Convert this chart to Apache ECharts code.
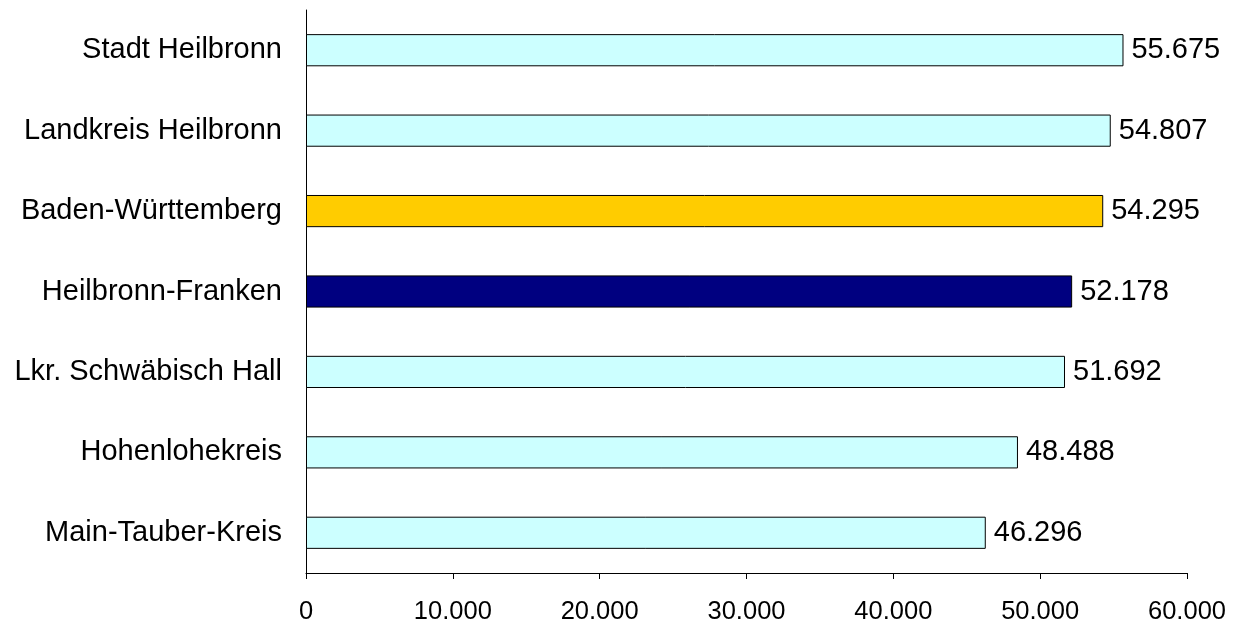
<!DOCTYPE html>
<html><head><meta charset="utf-8">
<script src="https://cdn.jsdelivr.net/npm/echarts@6/dist/echarts.min.js"></script>
<style>html,body{margin:0;padding:0;background:#fff}#c{width:1238px;height:626px}</style>
</head><body><div id="c"></div>
<script>
const categories = ["Main-Tauber-Kreis","Hohenlohekreis","Lkr. Schwäbisch Hall","Heilbronn-Franken","Baden-Württemberg","Landkreis Heilbronn","Stadt Heilbronn"];
const values = [46296, 48488, 51692, 52178, 54295, 54807, 55675];
const barColors = ["#CCFFFF","#CCFFFF","#CCFFFF","#000080","#FFCC00","#CCFFFF","#CCFFFF"];
const fmt = v => String(v).replace(/\B(?=(\d{3})+(?!\d))/g, ".");
const chart = echarts.init(document.getElementById('c'), null, {renderer:'canvas'});
chart.setOption({
  animation:false,
  grid:{left:306,right:51,top:10,bottom:53,containLabel:false},
  xAxis:{type:'value',min:0,max:60000,interval:10000,
    axisLine:{show:true,lineStyle:{color:'#000',width:1}},
    axisTick:{show:true,length:6,lineStyle:{color:'#000'}},
    splitLine:{show:false},
    axisLabel:{formatter:fmt,color:'#000',fontFamily:'Liberation Sans',fontSize:25.5,margin:26}},
  yAxis:{type:'category',data:categories,
    axisLine:{show:true,lineStyle:{color:'#000',width:1}},
    axisTick:{show:false},
    axisLabel:{color:'#000',fontFamily:'Liberation Sans',fontSize:29,margin:24}},
  series:[{type:'bar',barWidth:'40%',
    data:values.map((v,i)=>({value:v,itemStyle:{color:barColors[i]}})),
    itemStyle:{borderColor:'#000',borderWidth:1},
    label:{show:true,position:'right',distance:8,formatter:p=>fmt(p.value),color:'#000',fontFamily:'Liberation Sans',fontSize:29}
  }]
});
</script></body></html>
